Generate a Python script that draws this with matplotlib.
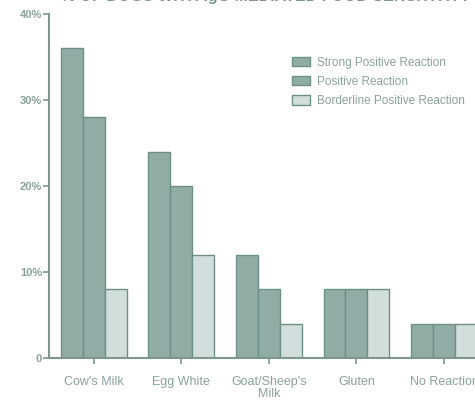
import matplotlib
matplotlib.use("Agg")
import matplotlib.pyplot as plt
import numpy as np

# data
categories = ["Cow's Milk", "Egg White", "Goat/Sheep's\nMilk", "Gluten", "No Reaction"]
strong = [36, 24, 12, 8, 4]
positive = [28, 20, 8, 8, 4]
borderline = [8, 12, 4, 8, 4]
series_names = ["Strong Positive Reaction", "Positive Reaction", "Borderline Positive Reaction"]

dark = "#90aca5"
light = "#d2dedb"
edge = "#6e8f87"
txt = "#8ba29c"

plt.rcParams['font.family'] = ['Liberation Sans', 'DejaVu Sans']

fig = plt.figure(figsize=(4.75, 4.0), dpi=100)
ax = fig.add_axes([49 / 475, 42 / 400, 1 - 49 / 475, 344 / 400])

x = np.arange(len(categories))
w = 0.25
ax.bar(x - w, strong, w, color=dark, edgecolor=edge, linewidth=1, label=series_names[0])
ax.bar(x, positive, w, color=dark, edgecolor=edge, linewidth=1, label=series_names[1])
ax.bar(x + w, borderline, w, color=light, edgecolor=edge, linewidth=1, label=series_names[2])

ax.set_xlim(-0.51, 4.354)
ax.set_ylim(0, 40)
ax.set_yticks([0, 10, 20, 30, 40])
ax.set_yticklabels(["0", "10%", "20%", "30%", "40%"], fontsize=8, fontweight='bold', color=txt)
ax.set_xticks(x)
ax.set_xticklabels(categories, fontsize=9, color=txt, linespacing=0.95)

for s in ["top", "right"]:
    ax.spines[s].set_visible(False)
for s in ["left", "bottom"]:
    ax.spines[s].set_color("#7d9690")
    ax.spines[s].set_linewidth(1.5)
ax.tick_params(axis='y', length=4, width=1.2, color="#7d9690", pad=1)
ax.tick_params(axis='x', length=4, width=1.2, color="#7d9690", pad=9)

leg = ax.legend(loc='upper left', bbox_to_anchor=(0.56, 0.89), frameon=False,
                fontsize=8.5, handlelength=1.5, handleheight=0.9, handletextpad=0.6,
                labelspacing=0.6, borderaxespad=0)
for t in leg.get_texts():
    t.set_color(txt)

fig.text(0.56, 1.01, "% OF DOGS WITH IgG MEDIATED FOOD SENSITIVITY", ha='center', va='center',
         fontsize=11.5, fontweight='bold', color="#7d9690")

fig.savefig("out.png", dpi=100)
